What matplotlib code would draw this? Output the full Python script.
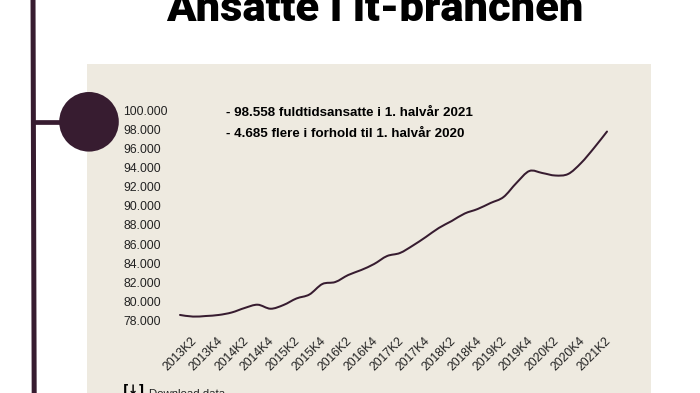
#!/usr/bin/env python3
import matplotlib
matplotlib.use('Agg')
import matplotlib.pyplot as plt
from matplotlib.patches import Circle, Rectangle, PathPatch
from matplotlib.path import Path

# ansatte pr. kvartal, aflaest fra billedet
kvartaler = ['2013K2', '2013K3', '2013K4', '2014K1', '2014K2', '2014K3', '2014K4',
             '2015K1', '2015K2', '2015K3', '2015K4', '2016K1', '2016K2', '2016K3',
             '2016K4', '2017K1', '2017K2', '2017K3', '2017K4', '2018K1', '2018K2',
             '2018K3', '2018K4', '2019K1', '2019K2', '2019K3', '2019K4', '2020K1',
             '2020K2', '2020K3', '2020K4', '2021K1', '2021K2', '2021K3']
ansatte = [78600, 78430, 78490, 78600, 78860, 79330, 79670, 79250, 79640, 80320,
           80735, 81830, 82040, 82770, 83290, 83920, 84750, 85070, 85850, 86740,
           87680, 88410, 89190, 89660, 90290, 90910, 92380, 93630, 93420, 93160,
           93320, 94470, 96040, 97750]
y_ticks = [78000, 80000, 82000, 84000, 86000, 88000, 90000, 92000, 94000, 96000,
           98000, 100000]
y_labels = ['78.000', '80.000', '82.000', '84.000', '86.000', '88.000', '90.000',
            '92.000', '94.000', '96.000', '98.000', '100.000']
titel = 'Ansatte i it-branchen'
noter = ['- 98.558 fuldtidsansatte i 1. halvår 2021',
         '- 4.685 flere i forhold til 1. halvår 2020']

W, H = 700, 393
lilla = '#371c30'
fig = plt.figure(figsize=(W / 100, H / 100), dpi=100, facecolor='white')

# baggrund og pynt i pixelkoordinater
bg = fig.add_axes([0, 0, 1, 1])
bg.set_xlim(0, W)
bg.set_ylim(H, 0)
bg.axis('off')
bg.add_patch(Rectangle((87, 64), 564, 340, facecolor='#eeeae0', edgecolor='none'))
bg.plot([33, 34.2], [-5, 400], color=lilla, lw=3.6, solid_capstyle='butt')
bg.plot([34, 62], [122, 122], color=lilla, lw=3.4, solid_capstyle='butt')
bg.add_patch(Circle((89, 121.8), 29.8, facecolor=lilla, edgecolor='none'))
bg.text(375, 21, titel, fontsize=31.3, fontweight='black', family='Roboto',
        ha='center', va='baseline', color='black')
bg.text(226, 113, noter[0], fontsize=9.6, fontweight='bold', family='Liberation Sans',
        va='center', color='black')
bg.text(226, 134, noter[1], fontsize=9.6, fontweight='bold', family='Liberation Sans',
        va='center', color='black')
bg.text(123, 393, '[↓]', fontsize=9, fontweight='bold', family='DejaVu Sans',
        va='baseline', color='black')
bg.text(149, 397, 'Download data', fontsize=8.2, family='Liberation Sans',
        va='baseline', color='#222222')

# selve grafen, 180-607 px i bredden og 110-320.7 px i hoejden
ax = fig.add_axes([180 / W, 1 - 320.7 / H, 427 / W, 210.7 / H])
ax.patch.set_visible(False)
x = list(range(len(kvartaler)))

# blød kurve gennem punkterne (catmull-rom som bezier)
verts = [(x[0], ansatte[0])]
codes = [Path.MOVETO]
n = len(x)
for i in range(n - 1):
    p0 = max(i - 1, 0)
    p3 = min(i + 2, n - 1)
    verts.append((x[i] + (x[i + 1] - x[p0]) / 6, ansatte[i] + (ansatte[i + 1] - ansatte[p0]) / 6))
    verts.append((x[i + 1] - (x[p3] - x[i]) / 6, ansatte[i + 1] - (ansatte[p3] - ansatte[i]) / 6))
    verts.append((x[i + 1], ansatte[i + 1]))
    codes += [Path.CURVE4, Path.CURVE4, Path.CURVE4]
ax.add_patch(PathPatch(Path(verts, codes), facecolor='none', edgecolor=lilla, lw=1.45,
                       capstyle='round', clip_on=False))

ax.set_xlim(0, len(kvartaler) - 1)
ax.set_ylim(78000, 100000)
for s in ax.spines.values():
    s.set_visible(False)
ax.set_yticks(y_ticks)
ax.set_yticklabels(y_labels, fontsize=8.7, family='Liberation Sans', color='#222222', ha='left',
                   va='center_baseline')
ax.tick_params(axis='y', length=0, pad=41)
ax.set_xticks(x[::2][:17])
ax.set_xticklabels(kvartaler[::2][:17], fontsize=8.8, family='Liberation Sans', color='#222222',
                   rotation=45, ha='center', va='top')
ax.tick_params(axis='x', length=0, pad=10)

fig.savefig('out.png', dpi=100)
